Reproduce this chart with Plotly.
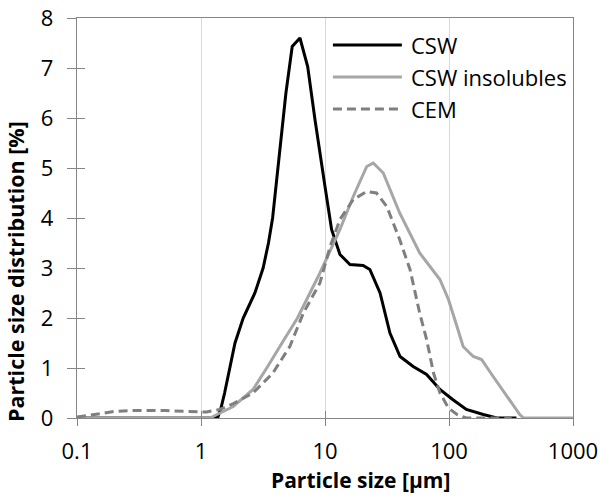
import plotly.graph_objects as go

# ---- data ----
csw_x = [0.1, 0.5, 1.0, 1.3, 1.37, 1.45, 1.55, 1.71, 1.88, 2.19, 2.72, 3.17, 3.5, 3.78, 4.17, 4.84, 5.44, 6.28, 7.25, 8.3, 10.0,
         11.3, 13.2, 15.9, 20.3, 23.0, 27.8, 33.4, 40.3, 51.4, 66.0, 84.5, 107, 138, 189, 243, 350]
csw_y = [0, 0, 0, 0, 0.02, 0.2, 0.5, 1.0, 1.5, 2.0, 2.5, 3.0, 3.5, 4.0, 5.0, 6.5, 7.43, 7.6, 7.03, 5.97, 4.63,
         3.77, 3.27, 3.07, 3.05, 2.97, 2.5, 1.7, 1.23, 1.03, 0.87, 0.57, 0.37, 0.17, 0.07, 0.0, 0]

ins_x = [0.1, 1.0, 1.2, 1.25, 1.82, 2.63, 3.0, 3.39, 4.5, 6.0, 9.1, 13.2, 16.9, 21.7, 24.5, 29.5, 40, 58, 84.5,
         99, 116, 130, 157, 183, 227, 292, 372, 400, 1000]
ins_y = [0.0, 0.0, 0.01, 0.03, 0.23, 0.57, 0.78, 1.0, 1.5, 2.0, 2.9, 3.77, 4.43, 5.03, 5.1, 4.9, 4.1, 3.3, 2.77,
         2.37, 1.83, 1.43, 1.23, 1.17, 0.83, 0.43, 0.07, 0, 0]

cem_x = [0.1, 0.12, 0.153, 0.2, 0.28, 0.52, 0.8, 1.11, 1.41, 1.8, 2.63, 3.8, 5.2, 6.7, 9.1, 11, 13.2, 16.9, 21.7,
         26, 31.5, 40, 48.5, 58, 66, 75, 84.5, 99, 116, 138, 320]
cem_y = [0.02, 0.05, 0.1, 0.13, 0.15, 0.15, 0.13, 0.12, 0.17, 0.28, 0.5, 0.9, 1.43, 2.1, 2.7, 3.43, 3.97, 4.37, 4.53,
         4.5, 4.23, 3.57, 2.97, 2.1, 1.57, 0.9, 0.5, 0.2, 0.07, 0, 0]

series_names = ["CSW", "CSW insolubles", "CEM"]
x_tickvals = [0.1, 1, 10, 100, 1000]
x_ticktext = ["0.1", "1", "10", "100", "1000"]
y_tickvals = [0, 1, 2, 3, 4, 5, 6, 7, 8]
x_title = "Particle size [µm]"
y_title = "Particle size distribution [%]"

FONT = "Open Sans"
styles = [dict(color="#000000", width=3, dash="solid"),
          dict(color="#A6A6A6", width=3, dash="solid"),
          dict(color="#7F7F7F", width=3, dash="9px,5px")]

fig = go.Figure()
for name, xs, ys, st in zip(series_names, [csw_x, ins_x, cem_x], [csw_y, ins_y, cem_y], styles):
    fig.add_trace(go.Scatter(x=xs, y=ys, mode="lines", name=name, line=st, showlegend=False))

# invisible trace for overlay axes (inside tick marks -> crossing ticks)
fig.add_trace(go.Scatter(x=[1], y=[0], xaxis="x2", yaxis="y2", mode="markers",
                         marker=dict(opacity=0), showlegend=False, hoverinfo="skip"))

axis_col = "#868686"
fig.update_layout(
    width=601, height=497,
    margin=dict(l=77, r=28, t=18, b=79),
    paper_bgcolor="white", plot_bgcolor="white",
    font=dict(family=FONT, size=22, color="#000000"),
    xaxis=dict(type="log", range=[-1, 3], tickvals=x_tickvals, ticktext=x_ticktext,
               showgrid=True, gridcolor="#D9D9D9", gridwidth=1,
               showline=True, linecolor=axis_col, linewidth=1.3, mirror=True,
               ticks="outside", ticklen=7, tickcolor=axis_col, tickwidth=1.3,
               ticklabelstandoff=6, zeroline=False, automargin=False),
    yaxis=dict(range=[0, 8], tickvals=y_tickvals, showgrid=False,
               showline=True, linecolor=axis_col, linewidth=1.3, mirror=True,
               ticks="outside", ticklen=9, tickcolor=axis_col, tickwidth=1.3,
               ticklabelstandoff=9, zeroline=False, automargin=False),
    xaxis2=dict(type="log", range=[-1, 3], overlaying="x", tickvals=x_tickvals,
                showticklabels=False, showgrid=False, showline=False, zeroline=False,
                ticks="inside", ticklen=7, tickcolor=axis_col, tickwidth=1.3, automargin=False),
    yaxis2=dict(range=[0, 8], overlaying="y", tickvals=y_tickvals,
                showticklabels=False, showgrid=False, showline=False, zeroline=False,
                ticks="inside", ticklen=8, tickcolor=axis_col, tickwidth=1.3, automargin=False),
)

# axis titles as annotations (placed like the reference)
fig.add_annotation(xref="paper", yref="paper", x=0.5706, y=-0.155, text="<b>%s</b>" % x_title,
                   showarrow=False, xanchor="center", yanchor="middle", font=dict(size=21))
fig.add_annotation(xref="paper", yref="paper", x=-0.125, y=0.365, text="<b>%s</b>" % y_title,
                   showarrow=False, xanchor="center", yanchor="middle", textangle=-90, font=dict(size=21.5))

# manual legend (long line samples like the reference)
leg_y = [0.9325, 0.8525, 0.7725]
for name, st, yy in zip(series_names, styles, leg_y):
    fig.add_shape(type="line", xref="paper", yref="paper", x0=0.516, x1=0.655, y0=yy, y1=yy,
                  line=dict(color=st["color"], width=st["width"], dash=st["dash"]))
    fig.add_annotation(xref="paper", yref="paper", x=0.669, y=yy, text=name, showarrow=False,
                       xanchor="left", yanchor="middle", font=dict(size=22))

fig.write_html("out.html")
